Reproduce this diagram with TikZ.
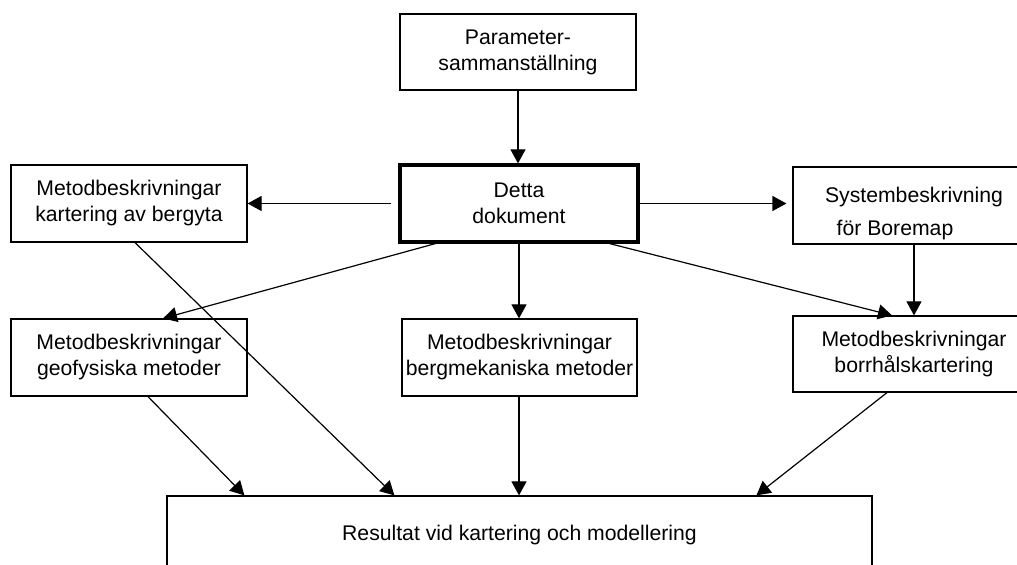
\documentclass[tikz,border=0pt]{standalone}
\usepackage{fontspec}
\setmainfont{Liberation Sans}
\usetikzlibrary{calc,arrows.meta}
\begin{document}
\begin{tikzpicture}[x=0.5pt,y=-0.5pt,
  box/.style={draw,line width=0.6pt,inner sep=0pt,align=center,
    font=\fontsize{10.6pt}{13pt}\selectfont},
  txt/.style={inner sep=0pt,font=\fontsize{10.6pt}{13pt}\selectfont},
  arr/.style={line width=0.6pt,-{Triangle[width=7.5pt,length=7pt]}},
  ln/.style={line width=0.6pt}]
\clip (0,0) rectangle (1017,565);
\fill[white] (0,0) rectangle (1017,565);
% boxes
\node[box,minimum width=118pt,minimum height=38pt] (param) at (518,52) {Parameter-\\sammanställning};
\node[box,line width=1.6pt,minimum width=119pt,minimum height=38.5pt] (detta) at (519,203.5) {Detta\\dokument};
\node[box,minimum width=118pt,minimum height=38.5pt] (kart) at (129,203.5) {Metodbeskrivningar\\kartering av bergyta};
\node[box,minimum width=118pt,minimum height=38.5pt] (geof) at (129,357.5) {Metodbeskrivningar\\geofysiska metoder};
\node[box,minimum width=117.5pt,minimum height=38.5pt] (berg) at (519.5,357.5) {Metodbeskrivningar\\bergmekaniska metoder};
\node[box,minimum width=121pt,minimum height=38.5pt] (sys) at (914,205.5) {};
\node[txt,anchor=base] (sysA) at (914,203) {Systembeskrivning};
\node[txt,anchor=base] (sysB) at (895,236) {för Boremap};
\node[box,minimum width=121pt,minimum height=38pt] (borr) at (914,354) {Metodbeskrivningar\\borrhålskartering};
\node[box,minimum width=352.5pt,minimum height=39pt] (res) at (519.5,535) {Resultat vid kartering och modellering};
% connectors
\draw[arr] (param.south) -- (param.south |- detta.north);
\draw[arr,shorten <=3.5pt] (detta.west) -- (kart.east);
\draw[arr,shorten >=3pt] (detta.east) -- (detta.east -| sys.west);
\draw[arr] ($(detta.south west)+(37,0)$) -- ($(geof.north)+(34,0)$);
\draw[arr] (detta.south) -- (detta.south |- berg.north);
\draw[arr] ($(detta.south east)+(-30,0)$) -- ($(borr.north)+(-22,0)$);
\draw[arr] (sys.south) -- (borr.north);
\draw[arr] ($(kart.south)+(6,0)$) -- ($(res.north west)+(228,0)$);
\draw[arr] ($(geof.south)+(19,0)$) -- ($(res.north west)+(78,0)$);
\draw[arr] (berg.south -| detta.south) -- (detta.south |- res.north);
\draw[arr] ($(borr.south)+(-27,0)$) -- ($(res.north west)+(590,0)$);
\end{tikzpicture}
\end{document}
